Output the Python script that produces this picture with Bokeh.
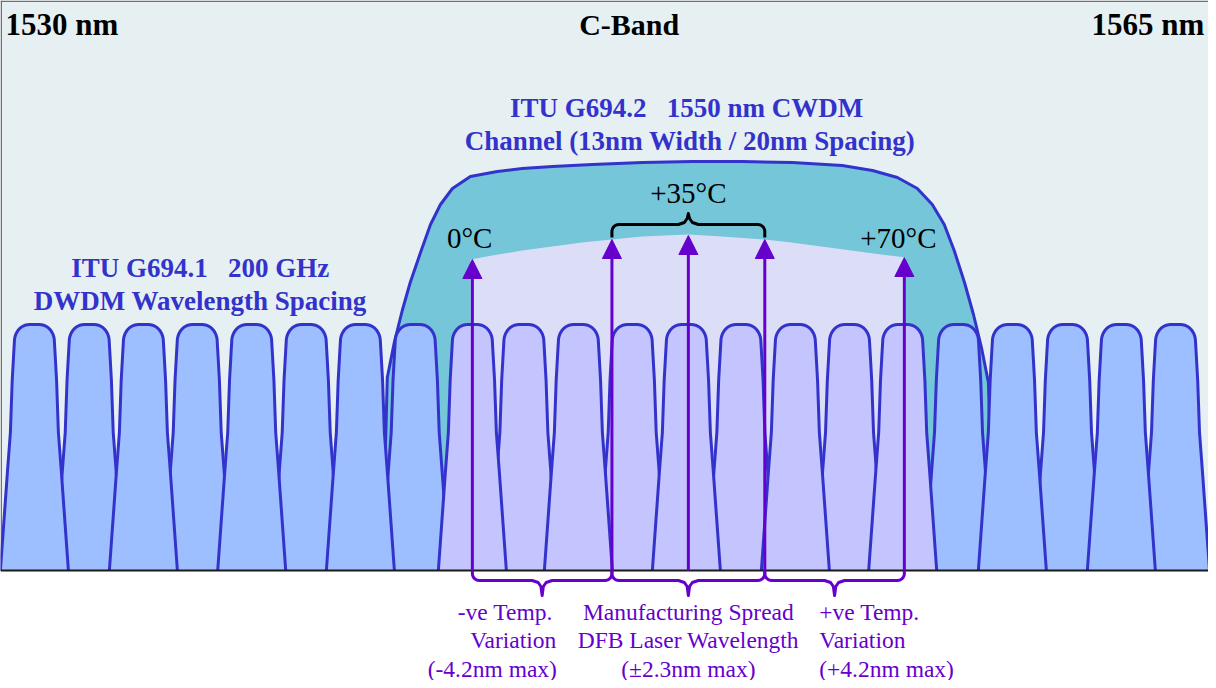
import numpy as np
from bokeh.plotting import figure
from bokeh.models import Range1d, Arrow, NormalHead, ColumnDataSource
from bokeh.embed import file_html
from bokeh.resources import INLINE
from bokeh.core.properties import value

# ------------------------------------------------------------------ data
band_edge_labels = ["1530 nm", "C-Band", "1565 nm"]

# ITU G694.1 200 GHz DWDM channel centres (nm)
dwdm_centers_nm = [1530.32, 1531.97, 1533.60, 1535.22, 1536.86, 1538.50,
                   1540.13, 1541.78, 1543.50, 1545.05, 1546.69, 1548.31,
                   1549.94, 1551.58, 1553.22, 1554.85, 1556.45, 1558.13,
                   1559.75, 1561.41, 1563.03, 1564.66]

# ITU G694.2 CWDM channel (13 nm width around 1550 nm)
cwdm_center_nm = 1550.0
cwdm_width_nm = 13.0
cwdm_outline_nm = [1540.85, 1540.94, 1541.15, 1541.39, 1541.63, 1541.94, 1542.24,
                   1542.54, 1542.90, 1543.44, 1544.25, 1545.00, 1545.91, 1547.11,
                   1548.62, 1550.12, 1551.63, 1553.13, 1554.63, 1555.54, 1556.29,
                   1556.89, 1557.34, 1557.70, 1558.00, 1558.31, 1558.58, 1558.82,
                   1559.03, 1559.12]
cwdm_outline_level = [80, 193, 228, 260, 288, 318, 346, 366, 382, 394, 399, 402,
                      404, 406, 408, 409, 409, 408, 405, 400, 393, 382, 366, 346,
                      320, 288, 256, 223, 188, 80]

# laser wavelength envelope (0 degC ... +70 degC)
envelope_nm = [1543.45, 1544.10, 1545.00, 1545.90, 1546.80, 1547.70, 1548.60,
               1550.00, 1551.00, 1552.30, 1553.10, 1554.00, 1554.90, 1555.80,
               1556.55]
envelope_level = [311, 315, 320, 324, 328, 331, 334, 336, 334, 331, 328, 324,
                  320, 316, 313]

# DFB laser wavelength markers
arrow_nm = [1543.5, 1547.7, 1550.0, 1552.3, 1556.5]
arrow_tip_level = [311, 331, 335, 331, 313]

temp_labels = ["0°C", "+35°C", "+70°C"]
dwdm_label = ["ITU G694.1\u00a0\u00a0\u00a0200 GHz", "DWDM Wavelength Spacing"]
cwdm_label = ["ITU G694.2\u00a0\u00a0\u00a01550 nm CWDM",
              "Channel (13nm Width / 20nm Spacing)"]
neg_temp_text = ["-ve Temp.", "Variation", "(-4.2nm max)"]
mfg_text = ["Manufacturing Spread", "DFB Laser Wavelength", "(±2.3nm max)"]
pos_temp_text = ["+ve Temp.", "Variation", "(+4.2nm max)"]

# ------------------------------------------------------------------ style
PX = 33.23                      # pixels per nm
X0 = 1529.30
X1 = X0 + 1208 / PX
BG = "#E6F0F2"
CH_BLUE = "#9DBEFF"
CH_LAV = "#C4C4FF"
TEAL = "#74C6D8"
LIGHT = "#DCDEF7"
OUTLINE = "#3333CC"
PURPLE = "#6600CC"
SERIF = "Liberation Serif"

p = figure(width=1208, height=680, x_range=Range1d(X0, X1), y_range=Range1d(-110, 570),
           output_backend="svg", toolbar_location=None, x_axis_type=None,
           y_axis_type=None, min_border=0, outline_line_color=None,
           background_fill_color="white", border_fill_color="white")

# plot background and frame
p.quad(left=X0, right=X1, bottom=0, top=570, fill_color=BG, line_color=None)
p.line([X0 + 0.75 / PX] * 2, [0, 570], line_color="#707070", line_width=1.5)
p.line([X0, X1], [569.25, 569.25], line_color="#707070", line_width=1.5)

# CWDM passband
p.patch(cwdm_outline_nm, cwdm_outline_level, fill_color=TEAL, line_color=OUTLINE,
        line_width=3)
p.patch([envelope_nm[0]] + envelope_nm + [envelope_nm[-1]],
        [80] + envelope_level + [80], fill_color=LIGHT, line_color=None)


# DWDM channel shapes
def channel(c):
    t = np.linspace(np.pi / 2, 0, 12)
    rx = np.concatenate([[0], 5 + 15 * np.cos(t), [20.8, 22.2, 24, 27, 34]])
    ry = np.concatenate([[246], 229 + 17 * np.sin(t), [215, 190, 138, 98, 0]])
    xs = np.concatenate([-rx[::-1], rx[1:]]) / PX + c
    ys = np.concatenate([ry[::-1], ry[1:]])
    return list(xs), list(ys)


half = cwdm_width_nm / 2 + 0.02
for parity in (1, 0):
    xs_l, ys_l, cols = [], [], []
    for i, c in enumerate(dwdm_centers_nm):
        if i % 2 != parity:
            continue
        xs, ys = channel(c)
        xs_l.append(xs)
        ys_l.append(ys)
        cols.append(CH_LAV if abs(c - cwdm_center_nm) <= half else CH_BLUE)
    p.patches(xs_l, ys_l, fill_color=cols, line_color=None)
    p.multi_line(xs_l, ys_l, line_color=OUTLINE, line_width=3, line_join="round")

# baseline
p.line([X0, X1], [0, 0], line_color="#1a1a1a", line_width=2)

# arrows
src = ColumnDataSource(dict(x=arrow_nm, y0=[0] * len(arrow_nm), y1=arrow_tip_level))
p.add_layout(Arrow(end=NormalHead(size=19, fill_color=PURPLE, line_color=PURPLE,
                                  line_width=1),
                   x_start="x", y_start="y0", x_end="x", y_end="y1", source=src,
                   line_color=PURPLE, line_width=3))


def arc(cx, cy, r, a0, a1, n=8):
    t = np.linspace(a0, a1, n)
    return list(cx + r * np.cos(t) / PX), list(cy + r * np.sin(t))


def brace(a, b, end_lvl, bar_lvl, tip, r=7):
    s = 1 if tip > bar_lvl else -1   # direction of cusp
    xm = (a + b) / 2
    xs, ys = [a], [end_lvl]
    if s < 0:
        ax, ay = arc(a + r / PX, bar_lvl + r, r, np.pi, 1.5 * np.pi)
    else:
        ax, ay = arc(a + r / PX, bar_lvl - r, r, np.pi, 0.5 * np.pi)
    xs += ax
    ys += ay
    dx = [-10, -4, -1.2, 0, 1.2, 4, 10]
    dy = [0, 2, 6, abs(tip - bar_lvl), 6, 2, 0]
    xs += [xm + d / PX for d in dx]
    ys += [bar_lvl + s * d for d in dy]
    if s < 0:
        ax, ay = arc(b - r / PX, bar_lvl + r, r, 1.5 * np.pi, 2 * np.pi)
    else:
        ax, ay = arc(b - r / PX, bar_lvl - r, r, 0.5 * np.pi, 0)
    xs += ax
    ys += ay
    xs.append(b)
    ys.append(end_lvl)
    return xs, ys


# bottom purple braces
bx, by = [], []
for a, b in zip(arrow_nm[:2] + [arrow_nm[3]], [arrow_nm[1], arrow_nm[3], arrow_nm[4]]):
    xs, ys = brace(a, b, 0, -10, -25)
    bx.append(xs)
    by.append(ys)
p.multi_line(bx, by, line_color=PURPLE, line_width=3, line_join="round")

# top black brace (manufacturing spread at +35 degC)
xs, ys = brace(arrow_nm[1], arrow_nm[3], 333, 346, 357)
p.line(xs, ys, line_color="black", line_width=3, line_join="round")


def txt(x, y, s, size, color, style="normal", align="center"):
    p.text(x=[x], y=[y], text=[s], text_font=value(SERIF), text_font_size=size,
           text_color=color, text_font_style=style, text_align=align,
           text_baseline="middle")


# band edge labels
txt(1529.45, 546, band_edge_labels[0], "31px", "black", "bold", "left")
txt(1548.22, 546, band_edge_labels[1], "30px", "black", "bold")
txt(1565.53, 546, band_edge_labels[2], "31px", "black", "bold", "right")

# DWDM / CWDM labels
txt(1535.31, 303, dwdm_label[0], "27px", OUTLINE, "bold")
txt(1535.31, 270, dwdm_label[1], "27px", OUTLINE, "bold")
txt(1549.95, 463, cwdm_label[0], "27px", OUTLINE, "bold")
txt(1550.05, 430, cwdm_label[1], "27px", OUTLINE, "bold")

# temperature labels
txt(1543.42, 333, temp_labels[0], "29px", "black")
txt(1550.0, 378, temp_labels[1], "29px", "black")
txt(1556.32, 333, temp_labels[2], "29px", "black")

# bottom annotations
rows = [-41, -69, -98]
for s, x, y in zip(neg_temp_text, [1544.49, 1544.73, 1544.10], rows):
    txt(x, y, s, "23.5px", PURPLE)
for s, y in zip(mfg_text, rows):
    txt(1550.0, y, s, "23.5px", PURPLE)
for s, y in zip(pos_temp_text, rows):
    txt(1553.94, y, s, "23.5px", PURPLE, align="left")

open("out.html", "w").write(file_html(p, INLINE))
